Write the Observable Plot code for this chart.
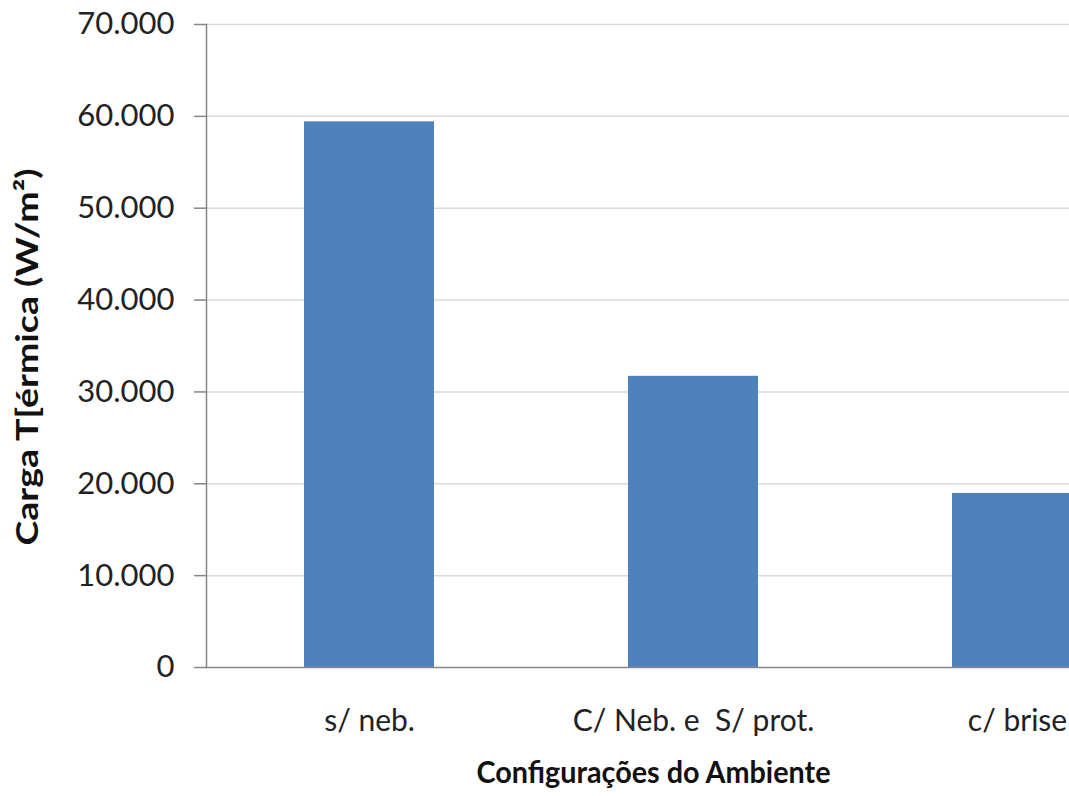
<!DOCTYPE html>
<html>
<head>
<meta charset="utf-8">
<script src="https://cdn.jsdelivr.net/npm/d3@7"></script>
<script src="https://cdn.jsdelivr.net/npm/@observablehq/plot@0.6"></script>
<style>
  html, body { margin: 0; padding: 0; overflow: hidden; background: #fff; }
  #chart svg { display: block; max-width: none !important; }
</style>
</head>
<body>
<div id="chart"></div>
<script>
const categories = ["s/ neb.", "C/ Neb. e  S/ prot.", "c/ brise"];
const values = [59400, 31700, 18950];
const yTicks = [0, 10000, 20000, 30000, 40000, 50000, 60000, 70000];
const yTitle = "Carga T[érmica (W/m²)";
const xTitle = "Configurações do Ambiente";

const data = categories.map((c, i) => ({category: c, value: values[i]}));
const fmt = d3.formatLocale({decimal: ",", thousands: ".", grouping: [3], currency: ["", ""]}).format(",d");
const font = "Lato, 'Open Sans', sans-serif";

const chart = Plot.plot({
  width: 1180,
  height: 796,
  marginLeft: 206,
  marginRight: 0,
  marginTop: 24,
  marginBottom: 129,
  style: {fontFamily: font, color: "#222", background: "#fff", overflow: "visible", maxWidth: "none"},
  x: {domain: categories, paddingInner: 0.6, paddingOuter: 0.3, axis: null},
  y: {domain: [0, 70000], axis: null},
  marks: [
    Plot.ruleY(yTicks.filter(d => d > 0), {stroke: "#d9d9d9", strokeWidth: 1.5}),
    Plot.barY(data, {x: "category", y: "value", fill: "#4f81bd"}),
    Plot.frame({anchor: "left", stroke: "#868686", strokeWidth: 1.5}),
    Plot.ruleY([0], {stroke: "#868686", strokeWidth: 1.5}),
    Plot.axisY({ticks: yTicks, tickSize: 12, tickPadding: 20, tickFormat: fmt, stroke: "#868686", strokeWidth: 1.5, fontSize: 31, fill: "#222", label: null}),
    Plot.axisX({tickSize: 0, tickPadding: 42, fontSize: 30, fill: "#222", label: null}),
    Plot.text([xTitle], {frameAnchor: "bottom", dx: -40, dy: 115, fontSize: 31, fontWeight: "bold", fill: "#111"}),
    Plot.text([yTitle], {frameAnchor: "left", textAnchor: "middle", dx: -178, dy: 11, rotate: -90, fontSize: 30, fontWeight: "bold", fill: "#111"})
  ]
});
document.getElementById("chart").appendChild(chart);
// stretch the two titles to the lengths they occupy in the reference (condensed face)
d3.select(chart).selectAll("text").each(function() {
  const t = this.textContent;
  if (t === yTitle) d3.select(this).attr("textLength", 377).attr("lengthAdjust", "spacingAndGlyphs");
  if (t === xTitle) d3.select(this).attr("textLength", 354).attr("lengthAdjust", "spacingAndGlyphs");
});
</script>
</body>
</html>
